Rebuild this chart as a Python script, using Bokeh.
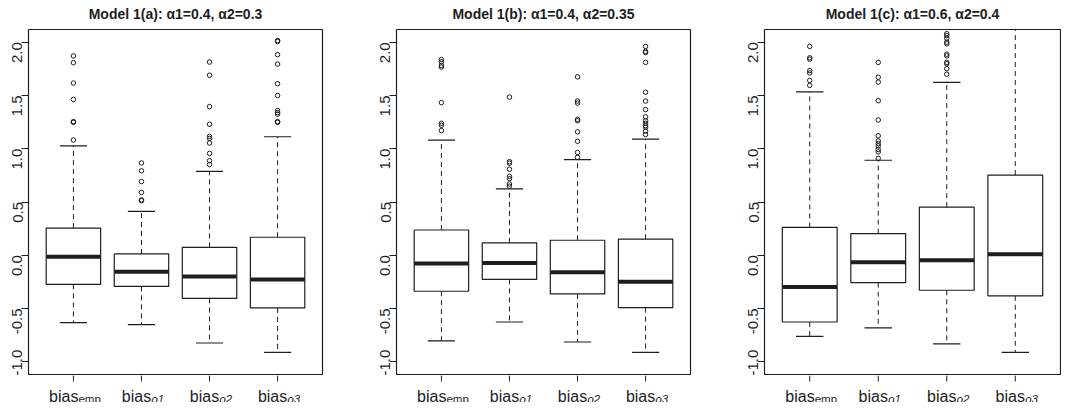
import math
from bokeh.plotting import figure
from bokeh.layouts import row, column
from bokeh.models import FixedTicker, Range1d
from bokeh.core.properties import value
from bokeh.embed import file_html
from bokeh.resources import INLINE

# ---------------- data ----------------
subscripts = ["emp", "ρ1", "ρ2", "ρ3"]
titles = ["Model 1(a): α1=0.4, α2=0.3",
          "Model 1(b): α1=0.4, α2=0.35",
          "Model 1(c): α1=0.6, α2=0.4"]
y_ticks = [-1.0, -0.5, 0.0, 0.5, 1.0, 1.5, 2.0]

# Model 1(a)
a_lo = [-0.633, -0.652, -0.824, -0.913]
a_q1 = [-0.274, -0.292, -0.406, -0.495]
a_med = [-0.015, -0.154, -0.200, -0.227]
a_q3 = [0.255, 0.012, 0.074, 0.169]
a_hi = [1.027, 0.412, 0.787, 1.113]
a_out = [[1.872, 1.808, 1.617, 1.463, 1.255, 1.248, 1.082],
         [0.867, 0.793, 0.692, 0.590, 0.520, 0.513],
         [1.814, 1.691, 1.396, 1.230, 1.116, 1.097, 1.054, 0.956, 0.888, 0.852],
         [2.017, 2.007, 1.884, 1.795, 1.611, 1.500, 1.359, 1.340, 1.325, 1.255, 1.248]]

# Model 1(b)
b_lo = [-0.805, -0.627, -0.815, -0.913]
b_q1 = [-0.338, -0.227, -0.363, -0.492]
b_med = [-0.077, -0.074, -0.160, -0.249]
b_q3 = [0.237, 0.117, 0.141, 0.151]
b_hi = [1.082, 0.624, 0.898, 1.091]
b_out = [[1.838, 1.817, 1.783, 1.768, 1.433, 1.239, 1.220, 1.171],
         [1.485, 0.879, 0.864, 0.808, 0.741, 0.719, 0.670, 0.649],
         [1.675, 1.448, 1.429, 1.276, 1.263, 1.159, 1.070, 0.965, 0.919],
         [1.961, 1.915, 1.903, 1.811, 1.531, 1.448, 1.368, 1.300, 1.263,
          1.239, 1.217, 1.202, 1.165, 1.134]]

# Model 1(c)
c_lo = [-0.762, -0.682, -0.833, -0.913]
c_q1 = [-0.627, -0.258, -0.329, -0.381]
c_med = [-0.298, -0.065, -0.046, 0.009]
c_q3 = [0.261, 0.203, 0.452, 0.753]
c_hi = [1.534, 0.892, 1.623, 2.400]
c_out = [[1.961, 1.854, 1.841, 1.734, 1.712, 1.642, 1.595],
         [1.811, 1.672, 1.626, 1.451, 1.270, 1.122, 1.073, 1.048, 1.027,
          0.993, 0.971, 0.910],
         [2.081, 2.063, 2.038, 2.001, 1.986, 1.888, 1.872, 1.811, 1.798,
          1.752, 1.700],
         []]

panels = [
    (titles[0], a_lo, a_q1, a_med, a_q3, a_hi, a_out),
    (titles[1], b_lo, b_q1, b_med, b_q3, b_hi, b_out),
    (titles[2], c_lo, c_q1, c_med, c_q3, c_hi, c_out),
]

# ---------------- style ----------------
INK = "#1e1e1e"
FONT = "Liberation Sans"
CHARW = {"b": .556, "i": .222, "a": .556, "s": .5, "e": .556, "m": .833,
         "p": .556, "ρ": .576, "1": .556, "2": .556, "3": .556}


def text_w(s, size):
    return sum(CHARW.get(ch, .556) for ch in s) * size


layouts = [  # (width, border_left, border_right)
    (349, 28, 27),
    (387, 47, 46),
    (325, 28, 1),
]
TITLE_H = 28
MAIN_H = 347
STRIP_H = 27


def bare(w, h, xr, yr, bl, br):
    f = figure(width=w, height=h, output_backend="svg", toolbar_location=None,
               x_range=xr, y_range=yr, x_axis_location=None, y_axis_location=None,
               min_border_left=bl, min_border_right=br,
               min_border_top=0, min_border_bottom=0)
    f.grid.visible = False
    f.outline_line_color = None
    f.background_fill_color = "white"
    f.border_fill_color = "white"
    return f


cols = []
for (title, lo, q1, med, q3, hi, outs), (w, bl, br) in zip(panels, layouts):
    xr = Range1d(0.34, 4.66)
    xs = [1, 2, 3, 4]

    # title strip
    t = bare(w, TITLE_H, xr, Range1d(TITLE_H, 0), bl, br)
    t.text(x=[2.5], y=[13], text=[title], text_align="center",
           text_baseline="alphabetic", text_font=value(FONT),
           text_font_size=value("14px"), text_font_style="bold", text_color=INK)

    # main panel
    p = figure(width=w, height=MAIN_H, output_backend="svg", toolbar_location=None,
               x_range=xr, y_range=Range1d(-1.12, 2.12),
               x_axis_location=None,
               min_border_left=bl, min_border_right=br,
               min_border_top=1, min_border_bottom=1)
    p.grid.visible = False
    p.outline_line_color = INK
    p.outline_line_width = 1.2
    p.outline_line_alpha = 1
    p.background_fill_color = "white"
    p.border_fill_color = "white"

    # whiskers
    p.segment(x0=xs, y0=q3, x1=xs, y1=hi, line_color=INK, line_width=1, line_dash="5 4")
    p.segment(x0=xs, y0=q1, x1=xs, y1=lo, line_color=INK, line_width=1, line_dash="5 4")
    # caps
    p.segment(x0=[x - 0.2 for x in xs], y0=hi, x1=[x + 0.2 for x in xs], y1=hi,
              line_color=INK, line_width=1.2)
    p.segment(x0=[x - 0.2 for x in xs], y0=lo, x1=[x + 0.2 for x in xs], y1=lo,
              line_color=INK, line_width=1.2)
    # boxes
    p.vbar(x=xs, width=0.8, top=q3, bottom=q1, fill_color="white",
           line_color=INK, line_width=1.2)
    # medians
    p.segment(x0=[x - 0.4 for x in xs], y0=med, x1=[x + 0.4 for x in xs], y1=med,
              line_color=INK, line_width=4)
    # outliers
    ox, oy = [], []
    for x, o in zip(xs, outs):
        ox += [x] * len(o)
        oy += o
    p.scatter(ox, oy, marker="circle", size=4.5, fill_color=None,
              line_color=INK, line_width=1)

    # y axis
    ya = p.yaxis[0]
    ya.ticker = FixedTicker(ticks=y_ticks)
    ya.major_label_orientation = math.pi / 2
    ya.major_label_text_font = FONT
    ya.major_label_text_font_size = "15px"
    ya.major_label_text_color = INK
    ya.major_label_standoff = 4
    ya.major_tick_out = 7
    ya.major_tick_in = 0
    ya.minor_tick_line_color = None
    ya.axis_line_color = None
    ya.major_tick_line_color = INK
    ya.major_label_overrides = {t_: f"{t_:.1f}" for t_ in y_ticks}

    # strip below the frame: x ticks and "bias" labels with subscripts
    s = bare(w, STRIP_H, xr, Range1d(STRIP_H, 0), bl, br)
    s.segment(x0=xs, y0=[0] * 4, x1=xs, y1=[6] * 4, line_color=INK, line_width=1)
    for x, sub in zip(xs, subscripts):
        wb = text_w("bias", 16)
        ws = text_w(sub, 11.5)
        dx = (wb - ws) / 2 + 1.5
        s.text(x=[x], y=[21], text=["bias"], x_offset=dx,
               text_align="right", text_baseline="alphabetic",
               text_font=value(FONT), text_font_size=value("16px"), text_color=INK)
        s.text(x=[x], y=[23.5], text=[sub], x_offset=dx,
               text_align="left", text_baseline="alphabetic",
               text_font=value(FONT), text_font_size=value("11.5px"), text_color=INK,
               text_font_style="normal" if sub == "emp" else "italic")
    cols.append(column(t, p, s, spacing=0))

layout = row(*cols, spacing=0)
open("out.html", "w").write(file_html(layout, INLINE))
